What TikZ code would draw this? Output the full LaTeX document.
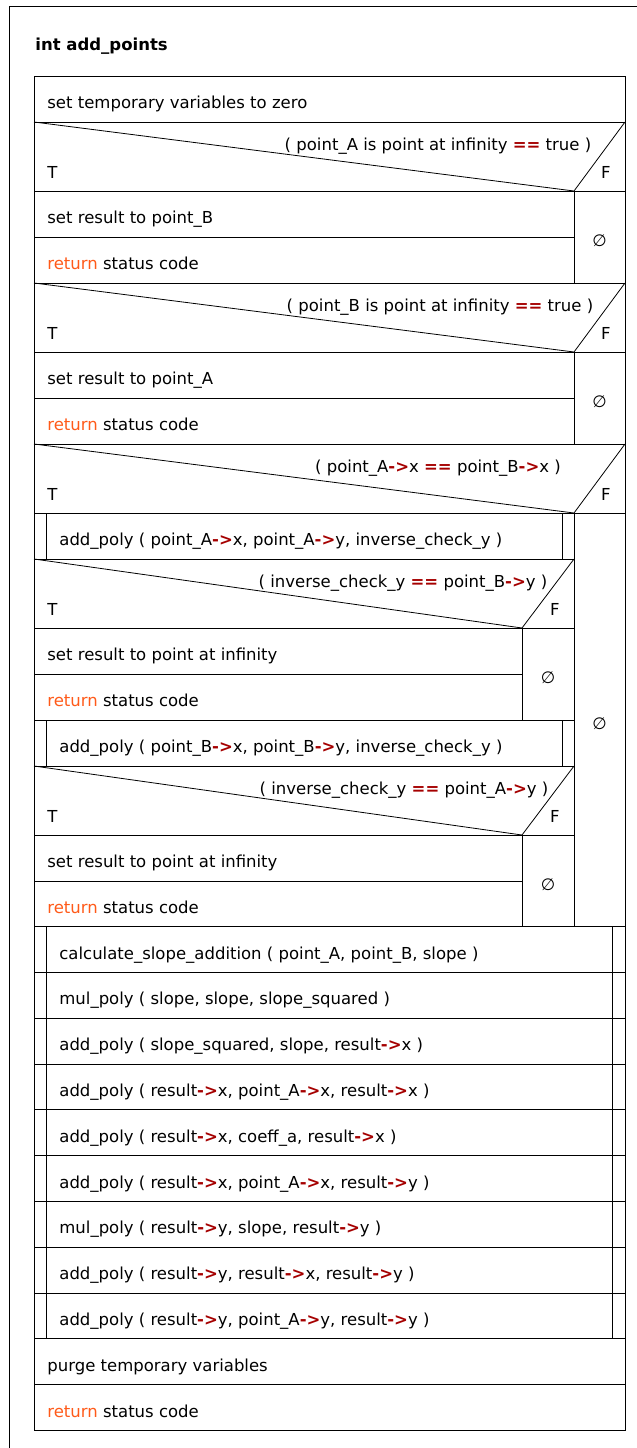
\documentclass[tikz,border=0pt]{standalone}
\usepackage{fontspec}
\setmainfont{DejaVu Sans}
\definecolor{kwred}{RGB}{255,90,25}
\definecolor{opred}{RGB}{165,0,0}
\newcommand{\opptr}{\textcolor{opred}{\textbf{->}}}
\newcommand{\opeq}{\textcolor{opred}{\textbf{==}}}
\newcommand{\kwret}{\textcolor{kwred}{return}}
\tikzset{
  txt/.style={anchor=base west},
  cnd/.style={anchor=base},
  fls/.style={anchor=base east},
  nul/.style={anchor=base}
}

\begin{document}
\begin{tikzpicture}[x=1pt,y=-1pt,line width=0.8pt,
    every node/.style={inner sep=0pt,font=\fontsize{16.5}{20}\selectfont}]
        \path[use as bounding box] (0,0) rectangle (637,1448);
        \draw (637,6) -| (9,1448);
        \node[txt,font=\fontsize{16.5}{20}\selectfont\bfseries] (title) at (35,50.5) {int add\_points};
        \draw (34,76) rectangle (625,1430);
        \foreach \y in {122,191,283,352,444,513,926.5,1338.5,1384.5}
            \draw (34,\y) -- (625,\y);
        \foreach \k in {1,...,8}
            \draw (34,{926.5+45.8*\k}) -- (625,{926.5+45.8*\k});
        \foreach \y in {237,398,559,628,720,766,835}
            \draw (34,\y) -- (574,\y);
        \foreach \y in {674,881}
            \draw (34,\y) -- (522,\y);
        \draw (34,122) -- (574,191) -- (625,122);
        \draw (34,283) -- (574,352) -- (625,283);
        \draw (34,444) -- (574,513) -- (625,444);
        \draw (34,559) -- (522,628) -- (574,559);
        \draw (34,766) -- (522,835) -- (574,766);
        \draw (574,191) -- (574,283) (574,352) -- (574,444) (574,513) -- (574,926.5);
        \draw (522,628) -- (522,720) (522,835) -- (522,926.5);
        \draw (46,513) -- (46,559) (562,513) -- (562,559);
        \draw (46,720) -- (46,766) (562,720) -- (562,766);
        \draw (46,926.5) -- (46,1338.5) (612,926.5) -- (612,1338.5);

        \node[txt] (init) at (47,108.5) {set temporary variables to zero};

        \node[cnd] (c1) at (438,150) {( point\_A is point at infinity \opeq{} true )};
        \node[txt] (t1) at (47,178) {T};
        \node[fls] (f1) at (611,178) {F};
        \node[txt] (r1) at (47,223.5) {set result to point\_B};
        \node[txt] (s1) at (47,269.5) {\kwret{} status code};
        \node[nul] (n1) at (599.5,246.5) {∅};

        \node[cnd] (c2) at (440,311) {( point\_B is point at infinity \opeq{} true )};
        \node[txt] (t2) at (47,339) {T};
        \node[fls] (f2) at (611,339) {F};
        \node[txt] (r2) at (47,384.5) {set result to point\_A};
        \node[txt] (s2) at (47,430.5) {\kwret{} status code};
        \node[nul] (n2) at (599.5,407.5) {∅};

        \node[cnd] (c3) at (438,472) {( point\_A\opptr{}x \opeq{} point\_B\opptr{}x )};
        \node[txt] (t3) at (47,500) {T};
        \node[fls] (f3) at (611,500) {F};
        \node[txt] (a1) at (59,545.5) {add\_poly ( point\_A\opptr{}x, point\_A\opptr{}y, inverse\_check\_y )};

        \node[cnd] (c4) at (403,587) {( inverse\_check\_y \opeq{} point\_B\opptr{}y )};
        \node[txt] (t4) at (47,615) {T};
        \node[fls] (f4) at (560,615) {F};
        \node[txt] (r4) at (47,660.5) {set result to point at infinity};
        \node[txt] (s4) at (47,706.5) {\kwret{} status code};
        \node[nul] (n4) at (548,683.5) {∅};

        \node[txt] (a2) at (59,752.5) {add\_poly ( point\_B\opptr{}x, point\_B\opptr{}y, inverse\_check\_y )};

        \node[cnd] (c5) at (404,794) {( inverse\_check\_y \opeq{} point\_A\opptr{}y )};
        \node[txt] (t5) at (47,822) {T};
        \node[fls] (f5) at (560,822) {F};
        \node[txt] (r5) at (47,867.5) {set result to point at infinity};
        \node[txt] (s5) at (47,913.5) {\kwret{} status code};
        \node[nul] (n5) at (548,890.5) {∅};

        \node[nul] (n3) at (599.5,729.5) {∅};

        \foreach \call [count=\k from 0] in {
            {calculate\_slope\_addition ( point\_A, point\_B, slope )},
            {mul\_poly ( slope, slope, slope\_squared )},
            {add\_poly ( slope\_squared, slope, result\opptr{}x )},
            {add\_poly ( result\opptr{}x, point\_A\opptr{}x, result\opptr{}x )},
            {add\_poly ( result\opptr{}x, coeff\_a, result\opptr{}x )},
            {add\_poly ( result\opptr{}x, point\_A\opptr{}x, result\opptr{}y )},
            {mul\_poly ( result\opptr{}y, slope, result\opptr{}y )},
            {add\_poly ( result\opptr{}y, result\opptr{}x, result\opptr{}y )},
            {add\_poly ( result\opptr{}y, point\_A\opptr{}y, result\opptr{}y )}}
            \node[txt] (call\k) at (59,{959+45.8*\k}) {\call};

        \node[txt] (purge) at (47,1371) {purge temporary variables};
        \node[txt] (done) at (47,1417) {\kwret{} status code};
    \end{tikzpicture}
\end{document}
